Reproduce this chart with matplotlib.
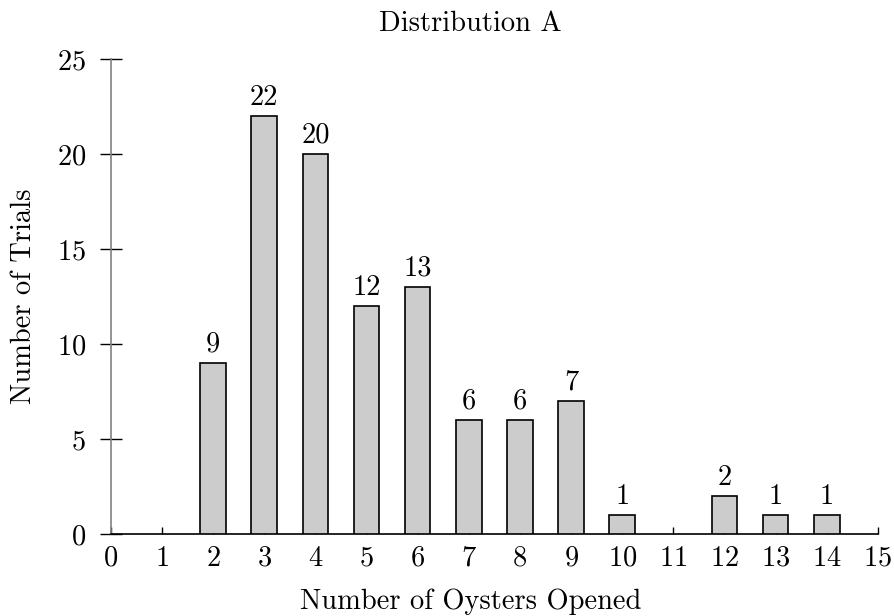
import matplotlib.pyplot as plt

plt.rcParams['font.family'] = ['cmr10', 'DejaVu Serif']
plt.rcParams['axes.formatter.use_mathtext'] = True

# data
oysters = [2, 3, 4, 5, 6, 7, 8, 9, 10, 12, 13, 14]
trials = [9, 22, 20, 12, 13, 6, 6, 7, 1, 2, 1, 1]

fs = 20.5

fig = plt.figure(figsize=(8.94, 6.16), dpi=100)
ax = fig.add_axes([0.124, 0.133, 0.858, 0.771])

bars = ax.bar(oysters, trials, width=0.5, color='#cccccc', edgecolor='black', linewidth=1.2, zorder=3)
for xv, yv in zip(oysters, trials):
    ax.annotate(str(yv), (xv, yv), xytext=(0, 4), textcoords='offset points',
                ha='center', va='bottom', fontsize=fs)

ax.set_xlim(0, 15)
ax.set_ylim(0, 25)
ax.set_xticks(range(0, 16))
ax.set_yticks(range(0, 26, 5))

ax.spines['top'].set_visible(False)
ax.spines['right'].set_visible(False)
ax.spines['left'].set_color('#808080')
ax.spines['left'].set_linewidth(1.2)
ax.spines['bottom'].set_linewidth(1.2)

ax.tick_params(axis='y', direction='inout', length=16, width=1, labelsize=fs, pad=10)
ax.tick_params(axis='x', direction='in', length=5, width=1, labelsize=fs, pad=8)

ax.set_xlabel('Number of Oysters Opened', fontsize=fs, labelpad=12, x=0.469)
ax.set_ylabel('Number of Trials', fontsize=fs, labelpad=14)
ax.set_title('Distribution A', fontsize=fs, pad=20, x=0.469)

plt.savefig('out.png', dpi=100)
